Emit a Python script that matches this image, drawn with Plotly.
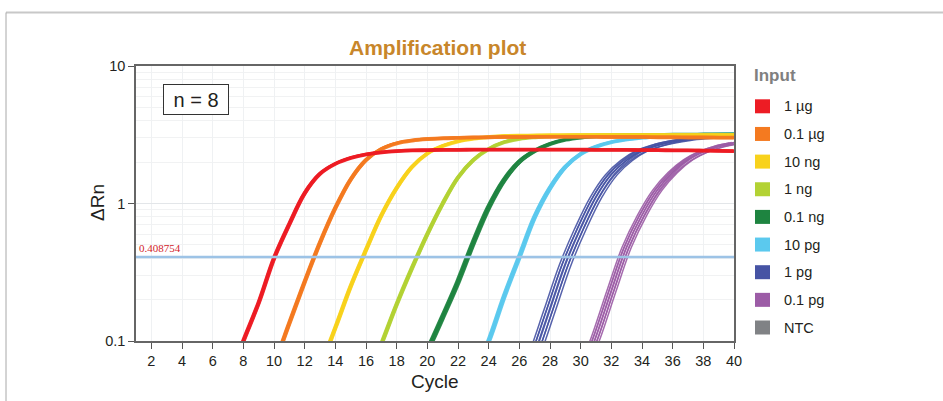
import math
import plotly.graph_objects as go

# ---------------- data ----------------
cycles = list(range(1, 41))
categories = ["1 µg", "0.1 µg", "10 ng", "1 ng", "0.1 ng", "10 pg", "1 pg", "0.1 pg", "NTC"]
colors = ["#ED1C24", "#F47A20", "#F8D21C", "#B3D234", "#1E8440", "#5BC9EE", "#4653A4", "#9C5CA6", "#808285"]

rn_1ug = [0.004, 0.005, 0.006, 0.008, 0.013, 0.026, 0.051, 0.10, 0.19, 0.40,
          0.71, 1.19, 1.65, 1.95, 2.15, 2.28, 2.36, 2.41, 2.44, 2.45,
          2.46, 2.46, 2.47, 2.47, 2.47, 2.47, 2.47, 2.47, 2.47, 2.47,
          2.46, 2.46, 2.46, 2.45, 2.45, 2.44, 2.44, 2.43, 2.42, 2.41]
rn_01ug = [0.004, 0.005, 0.006, 0.007, 0.008, 0.01, 0.015, 0.025, 0.04, 0.068,
           0.135, 0.27, 0.52, 0.93, 1.5, 2.08, 2.5, 2.75, 2.88, 2.95,
           2.99, 3.01, 3.03, 3.04, 3.05, 3.05, 3.06, 3.06, 3.06, 3.06,
           3.06, 3.05, 3.05, 3.05, 3.04, 3.04, 3.03, 3.03, 3.02, 3.02]
rn_10ng = [0.004, 0.004, 0.005, 0.005, 0.006, 0.007, 0.008, 0.01, 0.013, 0.018,
           0.028, 0.04, 0.065, 0.125, 0.25, 0.46, 0.82, 1.30, 1.85, 2.32,
           2.63, 2.84, 2.97, 3.05, 3.10, 3.12, 3.13, 3.14, 3.14, 3.15,
           3.15, 3.15, 3.15, 3.15, 3.15, 3.15, 3.15, 3.15, 3.15, 3.15]
rn_1ng = [0.004, 0.004, 0.004, 0.005, 0.005, 0.006, 0.006, 0.007, 0.008, 0.009,
          0.011, 0.013, 0.016, 0.02, 0.03, 0.05, 0.095, 0.185, 0.34, 0.60,
          1.00, 1.55, 2.08, 2.50, 2.80, 2.96, 3.04, 3.09, 3.12, 3.13,
          3.14, 3.15, 3.15, 3.16, 3.16, 3.16, 3.16, 3.16, 3.16, 3.16]
rn_01ng = [0.004, 0.004, 0.004, 0.004, 0.005, 0.005, 0.005, 0.006, 0.006, 0.007,
           0.008, 0.009, 0.01, 0.012, 0.014, 0.018, 0.024, 0.035, 0.05, 0.085,
           0.15, 0.27, 0.52, 0.94, 1.48, 2.02, 2.42, 2.72, 2.92, 3.03,
           3.09, 3.12, 3.14, 3.15, 3.16, 3.17, 3.17, 3.18, 3.18, 3.18]
rn_10pg = [0.004, 0.004, 0.004, 0.004, 0.004, 0.005, 0.005, 0.005, 0.005, 0.006,
           0.006, 0.007, 0.007, 0.008, 0.009, 0.01, 0.012, 0.014, 0.017, 0.022,
           0.03, 0.04, 0.055, 0.10, 0.21, 0.41, 0.80, 1.30, 1.85, 2.30,
           2.60, 2.80, 2.93, 3.02, 3.08, 3.12, 3.15, 3.17, 3.18, 3.20]
rn_1pg = [0.004, 0.004, 0.004, 0.004, 0.004, 0.004, 0.005, 0.005, 0.005, 0.005,
          0.005, 0.006, 0.006, 0.006, 0.007, 0.007, 0.008, 0.008, 0.009, 0.01,
          0.011, 0.012, 0.014, 0.016, 0.02, 0.04, 0.08, 0.17, 0.36, 0.66,
          1.11, 1.62, 2.06, 2.42, 2.65, 2.82, 2.94, 3.02, 3.08, 3.12]
rn_01pg = [0.004, 0.004, 0.004, 0.004, 0.004, 0.004, 0.004, 0.005, 0.005, 0.005,
           0.005, 0.005, 0.005, 0.006, 0.006, 0.006, 0.006, 0.007, 0.007, 0.007,
           0.008, 0.008, 0.009, 0.009, 0.01, 0.012, 0.015, 0.02, 0.03, 0.055,
           0.107, 0.23, 0.48, 0.82, 1.25, 1.68, 2.08, 2.38, 2.6, 2.75]
rn_ntc = [0.004] * 40

# replicate spread (Ct shift in cycles) per input and replicate pattern (n = 8)
rep_spread = [0.10, 0.10, 0.10, 0.10, 0.14, 0.12, 0.38, 0.30, 0.0]
rep_shift = [-1.0, -0.62, -0.5, -0.12, 0.05, 0.42, 0.58, 1.0]
rep_plateau = [1.0, 0.985, 1.012, 0.993, 1.006, 0.978, 1.018, 0.997]

threshold = 0.408754
x_ticks = list(range(2, 41, 2))
y_ticks = [0.1, 1, 10]
y_ticklabels = ["0.1", "1", "10"]

series = [rn_1ug, rn_01ug, rn_10ng, rn_1ng, rn_01ng, rn_10pg, rn_1pg, rn_01pg, rn_ntc]

FONT = "Liberation Sans, Arial, Helvetica, sans-serif"

fig = go.Figure()

# draw from last (0.1 pg / NTC) to first so the 1 µg curve is on top
for gi in reversed(range(len(series))):
    vals = series[gi]
    for ri in range(len(rep_shift)):
        xs = [c + rep_spread[gi] * rep_shift[ri] for c in cycles]
        ys = [v * rep_plateau[ri] if v > 0.05 else v for v in vals]
        fig.add_trace(go.Scatter(
            x=xs, y=ys, mode="lines",
            line=dict(color=colors[gi], width=1.5, shape="spline", smoothing=1.0),
            opacity=0.9, showlegend=False, hoverinfo="skip"))

# plot area in pixels: x 136..734, y 66..341 (943x401 figure)
L, R, T, B = 136, 734, 66, 341
W, H = R - L, B - T


def px(xp):
    return (xp - L) / W


def py(yp):
    return (B - yp) / H


shapes = []
annotations = []

# threshold line
shapes.append(dict(type="line", xref="paper", yref="y", x0=0, x1=1,
                   y0=threshold, y1=threshold, layer="above",
                   line=dict(color="#9DC3E6", width=2.5)))
annotations.append(dict(xref="paper", yref="y", x=0.002, y=math.log10(threshold), yshift=1,
                        yanchor="bottom", xanchor="left",
                        text=str(threshold), showarrow=False,
                        font=dict(family="Liberation Serif, Times New Roman, serif", size=11, color="#D2232A")))

# outer frame lines
shapes.append(dict(type="line", xref="paper", yref="paper", x0=px(6), x1=px(943),
                   y0=py(12.5), y1=py(12.5), line=dict(color="#C8C8C8", width=2)))
shapes.append(dict(type="line", xref="paper", yref="paper", x0=px(6), x1=px(6),
                   y0=py(12.5), y1=py(401), line=dict(color="#A8A8A8", width=1)))

# legend (manual, square swatches)
annotations.append(dict(xref="paper", yref="paper", x=px(752), y=py(75), xanchor="left", yanchor="middle",
                        text="<b>Input</b>", showarrow=False,
                        font=dict(family=FONT, size=17, color="#808080")))
for i, (cat, col) in enumerate(zip(categories, colors)):
    yc = 106.3 + 27.65 * i
    shapes.append(dict(type="rect", xref="paper", yref="paper",
                       x0=px(755), x1=px(770), y0=py(yc + 7), y1=py(yc - 7),
                       fillcolor=col, line=dict(width=0)))
    annotations.append(dict(xref="paper", yref="paper", x=px(782), y=py(yc), xanchor="left", yanchor="middle",
                            text=cat, showarrow=False,
                            font=dict(family=FONT, size=14.5, color="#231F20")))

# title
annotations.append(dict(xref="paper", yref="paper", x=px(437), y=py(47), xanchor="center", yanchor="middle",
                        text="<b>Amplification plot</b>", showarrow=False,
                        font=dict(family=FONT, size=21, color="#C8862A")))
# axis titles
annotations.append(dict(xref="paper", yref="paper", x=px(97), y=py(203), xanchor="center", yanchor="middle",
                        text="ΔRn", textangle=-90, showarrow=False,
                        font=dict(family=FONT, size=19, color="#231F20")))
annotations.append(dict(xref="paper", yref="paper", x=px(435), y=py(381), xanchor="center", yanchor="middle",
                        text="Cycle", showarrow=False,
                        font=dict(family=FONT, size=19, color="#231F20")))
# n = 8 box
annotations.append(dict(xref="paper", yref="paper", x=px(196), y=py(99), xanchor="center", yanchor="middle",
                        text="n = 8", showarrow=False, width=62, height=27, borderpad=1,
                        bordercolor="#333333", borderwidth=1, bgcolor="white",
                        font=dict(family=FONT, size=20, color="#231F20")))

minor_vals = [v * m for m in (0.1, 1) for v in range(2, 10)]

fig.update_layout(
    width=943, height=401,
    margin=dict(l=L, r=943 - R, t=T, b=401 - B, pad=0),
    paper_bgcolor="white", plot_bgcolor="white",
    showlegend=False,
    shapes=shapes, annotations=annotations,
    font=dict(family=FONT, color="#231F20"),
    xaxis=dict(range=[1, 40], tickvals=x_ticks, ticks="outside", ticklen=6, tickwidth=1.3,
               tickcolor="#555555", showline=True, linecolor="#666666", linewidth=1.5, mirror=True,
               showgrid=True, gridcolor="#EFF1F3", gridwidth=1, zeroline=False,
               tickfont=dict(size=14.5, color="#231F20")),
    yaxis=dict(type="log", range=[-1, 1], tickvals=y_ticks, ticktext=y_ticklabels,
               ticks="outside", ticklen=6, tickwidth=1.3, tickcolor="#555555",
               showline=True, linecolor="#666666", linewidth=1.5, mirror=True,
               showgrid=True, gridcolor="#E3E6E9", zeroline=False,
               minor=dict(tickvals=minor_vals, showgrid=True, gridcolor="#F1F2F3", ticklen=0),
               tickfont=dict(size=14.5, color="#231F20")),
)

fig.write_html("out.html", config={"displayModeBar": False},
               post_script="document.body.style.margin='0';document.body.style.padding='0';")
